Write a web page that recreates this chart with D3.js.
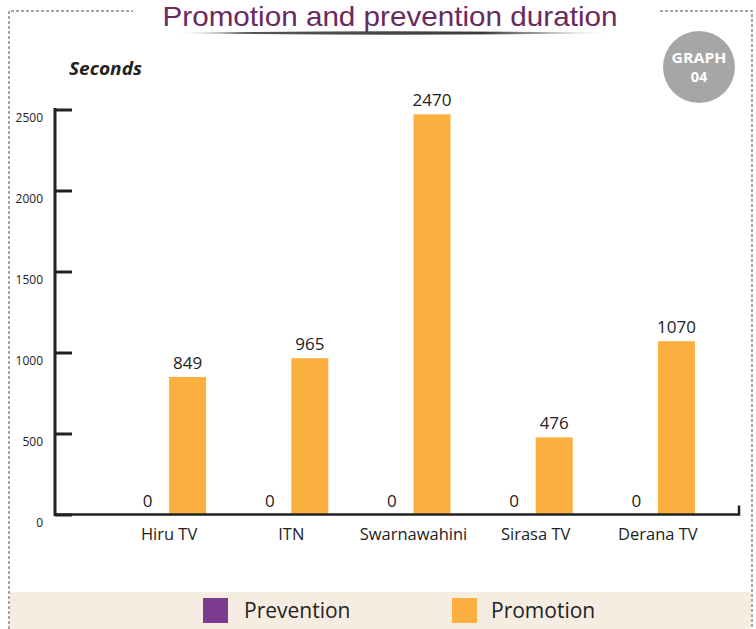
<!DOCTYPE html>
<html>
<head>
<meta charset="utf-8">
<script src="https://cdn.jsdelivr.net/npm/d3@7"></script>
<style>
  html, body { margin: 0; padding: 0; background: #fff; }
  svg { display: block; }
</style>
</head>
<body>
<svg id="chart" width="756" height="629"></svg>
<script>
const categories = ["Hiru TV", "ITN", "Swarnawahini", "Sirasa TV", "Derana TV"];
const seriesNames = ["Prevention", "Promotion"];
const prevention = [0, 0, 0, 0, 0];
const promotion = [849, 965, 2470, 476, 1070];
const yTicks = [0, 500, 1000, 1500, 2000, 2500];
const colors = ["#7d3b8f", "#fbb040"];

const svg = d3.select("#chart");
const font = "'Open Sans', 'Noto Sans', sans-serif";

// frame (dashed)
const frame = svg.append("g").attr("stroke", "#888").attr("stroke-width", 1.5)
  .attr("stroke-dasharray", "3,2").attr("fill", "none");
frame.append("path").attr("d", "M9,629 V11 H133");
frame.append("path").attr("d", "M660,11 H752 V629");

// legend band
svg.append("rect").attr("x", 10).attr("y", 592).attr("width", 741).attr("height", 37).attr("fill", "#f6ede2");

// title
svg.append("text").attr("x", 390).attr("y", 26).attr("text-anchor", "middle")
  .attr("font-family", "'Liberation Sans', Arial, sans-serif")
  .attr("font-size", 28).attr("fill", "#6a2a5f")
  .attr("textLength", 455).attr("lengthAdjust", "spacingAndGlyphs")
  .text("Promotion and prevention duration");

// underline gradient
const defs = svg.append("defs");
const grad = defs.append("linearGradient").attr("id", "ul").attr("x1", "0").attr("x2", "1");
grad.append("stop").attr("offset", "0").attr("stop-color", "#555").attr("stop-opacity", 0);
grad.append("stop").attr("offset", "0.15").attr("stop-color", "#444").attr("stop-opacity", 0.9);
grad.append("stop").attr("offset", "0.7").attr("stop-color", "#3a3a3a").attr("stop-opacity", 1);
grad.append("stop").attr("offset", "1").attr("stop-color", "#888").attr("stop-opacity", 0);
svg.append("path").attr("d", "M173,33 Q395,29.5 617,33 Q395,36.5 173,33 Z").attr("fill", "url(#ul)");

// badge
svg.append("circle").attr("cx", 699).attr("cy", 67).attr("r", 36).attr("fill", "#a6a6a6");
svg.append("text").attr("x", 699).attr("y", 63).attr("text-anchor", "middle")
  .attr("font-family", font).attr("font-weight", "bold").attr("font-size", 14.5).attr("fill", "#fff")
  .attr("textLength", 55).attr("lengthAdjust", "spacingAndGlyphs").text("GRAPH");
svg.append("text").attr("x", 699).attr("y", 82).attr("text-anchor", "middle")
  .attr("font-family", font).attr("font-weight", "bold").attr("font-size", 14.5).attr("fill", "#fff").text("04");

// y label
svg.append("text").attr("x", 69).attr("y", 75).attr("font-family", font)
  .attr("font-weight", "bold").attr("font-style", "italic").attr("font-size", 18).attr("fill", "#222")
  .attr("textLength", 73).attr("lengthAdjust", "spacingAndGlyphs").text("Seconds");

// scales
const y = d3.scaleLinear().domain([0, 2500]).range([514.5, 109.5]);
const x0 = d3.scaleBand().domain(categories).range([108, 719]).paddingInner(0.394).paddingOuter(0.197);
const x1 = d3.scaleBand().domain(seriesNames).range([0, x0.bandwidth()]);

// y axis
const yAxis = d3.axisRight(y).tickValues(yTicks).tickSize(17).tickFormat("");
const ya = svg.append("g").attr("transform", "translate(55,0)").call(yAxis);
ya.select(".domain").remove();
ya.selectAll(".tick line").attr("stroke", "#222").attr("stroke-width", 3);
svg.append("line").attr("x1", 55).attr("x2", 55).attr("y1", y(2500) - 1.5).attr("y2", y(0) + 1.5)
  .attr("stroke", "#222").attr("stroke-width", 3);
// y tick labels
svg.append("g").selectAll("text").data(yTicks).join("text")
  .attr("x", 43).attr("y", d => y(d) + 12).attr("text-anchor", "end")
  .attr("font-family", font).attr("font-size", 12).attr("fill", "#222").text(d => d);

// bars
const groups = svg.append("g").selectAll("g").data(categories).join("g")
  .attr("transform", c => `translate(${x0(c)},0)`);
const barData = (c, i) => [
  { s: "Prevention", v: prevention[i], col: colors[0] },
  { s: "Promotion", v: promotion[i], col: colors[1] }
];
groups.each(function (c, i) {
  const g = d3.select(this);
  const d = barData(c, i);
  g.selectAll("rect").data(d).join("rect")
    .attr("x", e => x1(e.s)).attr("width", x1.bandwidth())
    .attr("y", e => y(e.v)).attr("height", e => y(0) - y(e.v)).attr("fill", e => e.col);
  g.selectAll("text.v").data(d).join("text").attr("class", "v")
    .attr("x", e => x1(e.s) + x1.bandwidth() / 2 - (e.s === "Prevention" ? 3 : 0))
    .attr("y", e => y(e.v) - 8).attr("text-anchor", "middle")
    .attr("font-family", font).attr("font-size", 17).attr("fill", "#222").text(e => e.v);
});

// x axis baseline
svg.append("path").attr("d", `M55,${y(0)} H739 V${y(0) - 9}`).attr("fill", "none")
  .attr("stroke", "#222").attr("stroke-width", 2.5);

// category labels
svg.append("g").selectAll("text").data(categories).join("text")
  .attr("x", c => x0(c) + x0.bandwidth() / 2).attr("y", 540).attr("text-anchor", "middle")
  .attr("font-family", font).attr("font-size", 16.5).attr("fill", "#222").text(c => c);

// legend
const lg = [{ n: seriesNames[0], x: 203, tx: 244 }, { n: seriesNames[1], x: 452, tx: 491 }];
svg.append("g").selectAll("rect").data(lg).join("rect")
  .attr("x", d => d.x).attr("y", 598).attr("width", 25).attr("height", 25)
  .attr("fill", (d, i) => colors[i]);
svg.append("g").selectAll("text").data(lg).join("text")
  .attr("x", d => d.tx).attr("y", 618).attr("font-family", font).attr("font-size", 21)
  .attr("fill", "#222").text(d => d.n);
</script>
</body>
</html>
